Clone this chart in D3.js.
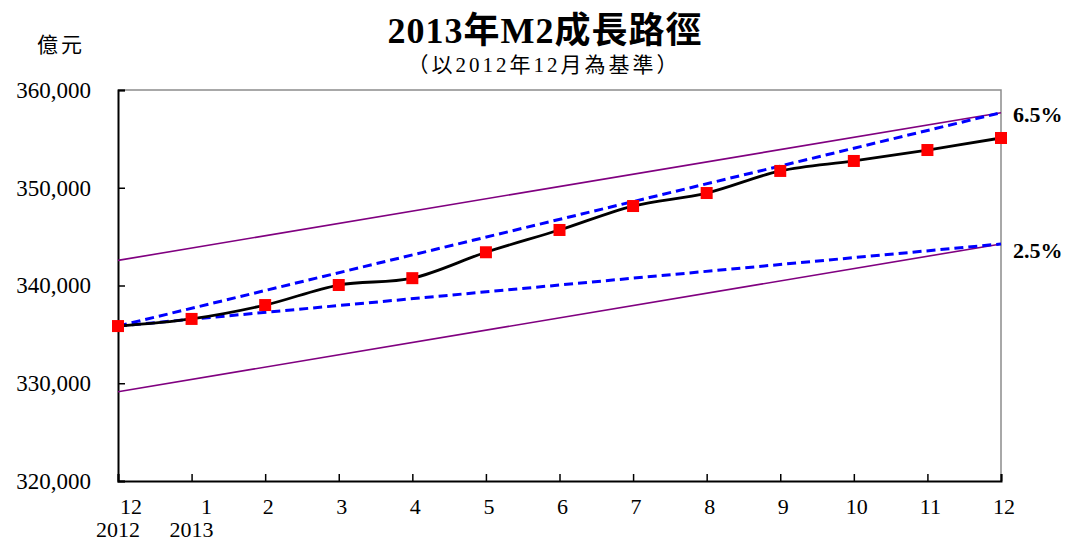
<!DOCTYPE html>
<html>
<head>
<meta charset="utf-8">
<script src="https://cdn.jsdelivr.net/npm/d3@7"></script>
<style>
  body { margin: 0; background: #fff; }
  text { font-family: "Liberation Serif", "Noto Sans CJK TC", serif; fill: #000; }
</style>
</head>
<body>
<div id="chart"></div>
<script>
// Months on the axis (12/2012 .. 12/2013)
const monthLabels = ['12', '1', '2', '3', '4', '5', '6', '7', '8', '9', '10', '11', '12'];
const yearLabels = ['2012', '2013'];
// M2 level, 億元
const m2Values = [335850, 336580, 338000, 340050, 340750, 343400, 345680, 348130, 349460, 351720, 352740, 353860, 355090];
// Target paths: [start, end] values at month index 0 and 12
const path65 = [335850, 357680];
const path25 = [335850, 344250];
const bandUpper = [342570, 357680];
const bandLower = [329130, 344250];
const yTicks = [320000, 330000, 340000, 350000, 360000];

const W = 1070, H = 543;
const margin = { left: 118, right: 69, top: 90, bottom: 62 };

const svg = d3.select('#chart').append('svg')
  .attr('width', W).attr('height', H);

const x = d3.scaleLinear().domain([0, monthLabels.length - 1]).range([margin.left, W - margin.right]);
const y = d3.scaleLinear().domain([320000, 360000]).range([H - margin.bottom, margin.top]);

// frame (grey top/right)
svg.append('path')
  .attr('d', `M${x(0)},${y(360000)}H${x(12)}V${y(320000)}`)
  .attr('fill', 'none').attr('stroke', '#8c8c8c').attr('stroke-width', 1.5);

// ── Axes ──────────────────────────────────────────────
const yAxis = svg.append('g')
  .attr('transform', `translate(${x(0)},0)`)
  .call(d3.axisLeft(y).tickValues(yTicks).tickSize(-7).tickPadding(27)
    .tickFormat(d3.format(',')));
yAxis.select('.domain').attr('stroke', '#000').attr('stroke-width', 2);
yAxis.selectAll('.tick line').attr('stroke', '#000').attr('stroke-width', 1.5);
yAxis.selectAll('.tick text').style('font-size', '23px').attr('fill', '#000');

const xAxis = svg.append('g')
  .attr('transform', `translate(0,${y(320000)})`)
  .call(d3.axisBottom(x).tickValues(d3.range(monthLabels.length)).tickSize(-7).tickFormat(''));
xAxis.select('.domain').attr('stroke', '#000').attr('stroke-width', 2);
xAxis.selectAll('.tick line').attr('stroke', '#000').attr('stroke-width', 1.5);

// month labels (first two sit a little right of their ticks, as in the source)
const labelShift = [13, 15];
svg.append('g').selectAll('text')
  .data(monthLabels)
  .join('text')
  .attr('x', (d, i) => x(i) + (labelShift[i] || 3))
  .attr('y', 514)
  .attr('text-anchor', 'middle')
  .style('font-size', '22px')
  .text((d) => d);

svg.append('g').selectAll('text')
  .data(yearLabels)
  .join('text')
  .attr('x', (d, i) => x(i))
  .attr('y', 537)
  .attr('text-anchor', 'middle')
  .style('font-size', '22px')
  .text((d) => d);

// ── Band and target paths ───────────────────────────────
const twoPoint = (vals) => [[0, vals[0]], [monthLabels.length - 1, vals[1]]];
const straight = d3.line().x((d) => x(d[0])).y((d) => y(d[1]));

[bandUpper, bandLower].forEach((vals) => {
  svg.append('path')
    .attr('d', straight(twoPoint(vals)))
    .attr('fill', 'none').attr('stroke', '#800080').attr('stroke-width', 1.6);
});

[path65, path25].forEach((vals) => {
  svg.append('path')
    .attr('d', straight(twoPoint(vals)))
    .attr('fill', 'none').attr('stroke', '#0000ff')
    .attr('stroke-width', 3).attr('stroke-dasharray', '9 5');
});

// ── M2 line ─────────────────────────────────────────────
const m2Line = d3.line()
  .x((d, i) => x(i))
  .y((d) => y(d))
  .curve(d3.curveCatmullRom.alpha(0.5));

svg.append('path')
  .attr('d', m2Line(m2Values))
  .attr('fill', 'none').attr('stroke', '#000').attr('stroke-width', 2.8);

const SQ = 12;
svg.append('g').selectAll('rect')
  .data(m2Values)
  .join('rect')
  .attr('x', (d, i) => x(i) - SQ / 2)
  .attr('y', (d) => y(d) - SQ / 2)
  .attr('width', SQ).attr('height', SQ)
  .attr('fill', '#ff0000');

// ── Labels ──────────────────────────────────────────────
svg.append('text')
  .attr('x', 1013).attr('y', y(path65[1]) + 9)
  .style('font-size', '22px').style('font-weight', 'bold')
  .text('6.5%');
svg.append('text')
  .attr('x', 1013).attr('y', y(path25[1]) + 14)
  .style('font-size', '22px').style('font-weight', 'bold')
  .text('2.5%');

svg.append('text')
  .attr('x', 545).attr('y', 43)
  .attr('text-anchor', 'middle')
  .style('font-size', '36px').style('font-weight', 'bold')
  .style('letter-spacing', '1px')
  .text('2013年M2成長路徑');
svg.append('text')
  .attr('x', 544).attr('y', 72)
  .attr('text-anchor', 'middle')
  .style('font-size', '21px').style('letter-spacing', '3px')
  .text('（以2012年12月為基準）');
svg.append('text')
  .attr('x', 61).attr('y', 52)
  .attr('text-anchor', 'middle')
  .style('font-size', '21px').style('letter-spacing', '3px')
  .text('億元');
</script>
</body>
</html>
